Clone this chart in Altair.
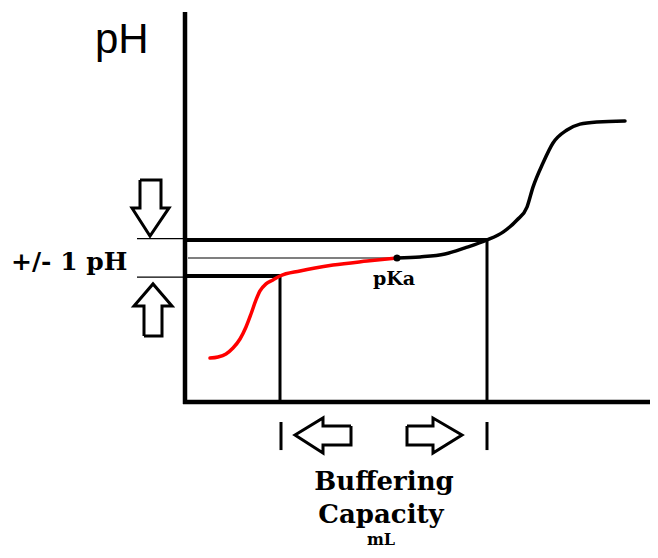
import altair as alt
import pandas as pd

# Titration curve (mL of titrant, pH)
red_ml = [2.5, 3.3, 4.1, 4.8, 5.5, 6.1, 6.6, 7.1, 7.5, 8.1, 8.8, 9.5, 11.5, 14.8, 18.2, 21.2]
red_ph = [2.44, 2.5, 2.67, 3.0, 3.5, 4.17, 4.89, 5.67, 6.17, 6.56, 6.78, 7.0, 7.28, 7.61, 7.83, 8.0]
black_ml = [21.2, 23.5, 26.0, 28.0, 30.2, 31.8, 33.2, 34.2, 34.8, 35.8, 36.8, 38.2, 39.5, 41.2, 44.0]
black_ph = [8.0, 8.06, 8.22, 8.56, 9.0, 9.44, 10.11, 10.83, 11.94, 13.28, 14.39, 15.11, 15.44, 15.56, 15.61]

pka_ml = 21.2
pka_ph = 8.0
upper_ph = 9.0
lower_ph = 7.0
lower_ml = 9.5
upper_ml = 30.2

# axes lines
axis_x = [0.0, -0.2]
axis_x2 = [0.0, 46.5]
axis_y = [-0.11, 0.0]
axis_y2 = [21.67, 0.0]

# arrows (outline polygons)
down_x = [-4.5, -2.4, -2.4, -1.6, -3.5, -5.3, -4.5, -4.5]
down_y = [12.33, 12.33, 10.78, 10.78, 9.22, 10.78, 10.78, 12.33]
up_x = [-4.1, -2.3, -2.3, -1.3, -3.2, -5.1, -4.1, -4.1]
up_y = [3.67, 3.67, 5.33, 5.33, 6.56, 5.33, 5.33, 3.67]
left_x = [16.6, 13.8, 13.8, 11.0, 13.8, 13.8, 16.6, 16.6]
left_y = [-1.33, -1.33, -0.89, -1.83, -2.83, -2.39, -2.39, -1.33]
right_x = [22.2, 24.8, 24.8, 27.7, 24.8, 24.8, 22.2, 22.2]
right_y = [-1.33, -1.33, -0.89, -1.83, -2.83, -2.39, -2.39, -1.33]

tick_ml = [9.6, 30.2]
tick_y = -1.11
tick_y2 = -2.67

labels = ["pH", "+/- 1 pH", "pKa", "Buffering", "Capacity", "mL"]

X = alt.Scale(domain=[-17.7, 46.5], nice=False, zero=False)
Y = alt.Scale(domain=[-8.222, 21.889], nice=False, zero=False)


def xe(f="x"):
    return alt.X(f + ":Q", scale=X, axis=None)


def ye(f="y"):
    return alt.Y(f + ":Q", scale=Y, axis=None)


red_df = pd.DataFrame({"x": red_ml, "y": red_ph, "o": range(len(red_ml))})
black_df = pd.DataFrame({"x": black_ml, "y": black_ph, "o": range(len(black_ml))})

red = alt.Chart(red_df).mark_line(color="#ff0000", strokeWidth=3.5, strokeCap="round",
                                  interpolate="monotone").encode(
    x=xe(), y=ye(), order="o:Q")
black = alt.Chart(black_df).mark_line(color="black", strokeWidth=3.5, strokeCap="round",
                                      interpolate="monotone").encode(
    x=xe(), y=ye(), order="o:Q")

axes_df = pd.DataFrame({"x": axis_x, "x2": axis_x2, "y": axis_y, "y2": axis_y2})
axes = alt.Chart(axes_df).mark_rule(color="black", strokeWidth=4.5).encode(
    x=xe(), x2="x2:Q", y=ye(), y2="y2:Q")

thick_df = pd.DataFrame({"x": [0.0, 0.0], "x2": [upper_ml, lower_ml], "y": [upper_ph, lower_ph]})
thick = alt.Chart(thick_df).mark_rule(color="black", strokeWidth=4).encode(
    x=xe(), x2="x2:Q", y=ye())

vert_df = pd.DataFrame({"x": [lower_ml, upper_ml], "y": [0.0, 0.0], "y2": [lower_ph, upper_ph]})
vert = alt.Chart(vert_df).mark_rule(color="black", strokeWidth=3).encode(
    x=xe(), y=ye(), y2="y2:Q")

ticks_df = pd.DataFrame({"x": tick_ml, "y": [tick_y] * 2, "y2": [tick_y2] * 2})
ticks = alt.Chart(ticks_df).mark_rule(color="black", strokeWidth=3).encode(
    x=xe(), y=ye(), y2="y2:Q")

thin_df = pd.DataFrame({"x": [-4.8, -4.8, 0.3], "x2": [0.0, 0.0, pka_ml],
                        "y": [upper_ph + 0.08, lower_ph - 0.06, pka_ph]})
thin = alt.Chart(thin_df).mark_rule(color="black", strokeWidth=1.2).encode(
    x=xe(), x2="x2:Q", y=ye())

arrow_rows = []
for name, xs, ys in [("down", down_x, down_y), ("up", up_x, up_y),
                     ("left", left_x, left_y), ("right", right_x, right_y)]:
    for i, (a, b) in enumerate(zip(xs, ys)):
        arrow_rows.append({"id": name, "x": a, "y": b, "o": i})
arrows = alt.Chart(pd.DataFrame(arrow_rows)).mark_line(
    color="black", strokeWidth=3, strokeJoin="miter").encode(
    x=xe(), y=ye(), detail="id:N", order="o:Q")

dot = alt.Chart(pd.DataFrame({"x": [pka_ml], "y": [pka_ph]})).mark_point(
    filled=True, color="black", size=50, opacity=1).encode(x=xe(), y=ye())

serif = "DejaVu Serif"
ph_title = alt.Chart(pd.DataFrame({"x": [-9.0], "y": [19.39], "t": [labels[0]]})).mark_text(
    font="Liberation Sans", fontSize=42, align="left", baseline="alphabetic", color="black").encode(
    x=xe(), y=ye(), text="t:N")
pm = alt.Chart(pd.DataFrame({"x": [-17.4], "y": [7.33], "t": [labels[1]]})).mark_text(
    font=serif, fontSize=25, fontWeight="bold", align="left", baseline="alphabetic", color="black").encode(
    x=xe(), y=ye(), text="t:N")
pka = alt.Chart(pd.DataFrame({"x": [20.9], "y": [6.5], "t": [labels[2]]})).mark_text(
    font=serif, fontSize=19, fontWeight="bold", align="center", baseline="alphabetic", color="black").encode(
    x=xe(), y=ye(), text="t:N")
buf = alt.Chart(pd.DataFrame({"x": [19.9, 19.6], "y": [-4.89, -6.72], "t": labels[3:5]})).mark_text(
    font=serif, fontSize=26, fontWeight="bold", align="center", baseline="alphabetic", color="black").encode(
    x=xe(), y=ye(), text="t:N")
ml = alt.Chart(pd.DataFrame({"x": [19.6], "y": [-7.95], "t": [labels[5]]})).mark_text(
    font=serif, fontSize=16, fontWeight="bold", align="center", baseline="alphabetic", color="black").encode(
    x=xe(), y=ye(), text="t:N")

chart = alt.layer(thin, thick, vert, ticks, axes, arrows, red, black, dot,
                  ph_title, pm, pka, buf, ml).properties(
    width=642, height=542, padding=0, autosize=alt.AutoSizeParams(type="none")
).configure_view(stroke=None)

chart.save("out.html", embed_options={"renderer": "svg", "actions": False})
